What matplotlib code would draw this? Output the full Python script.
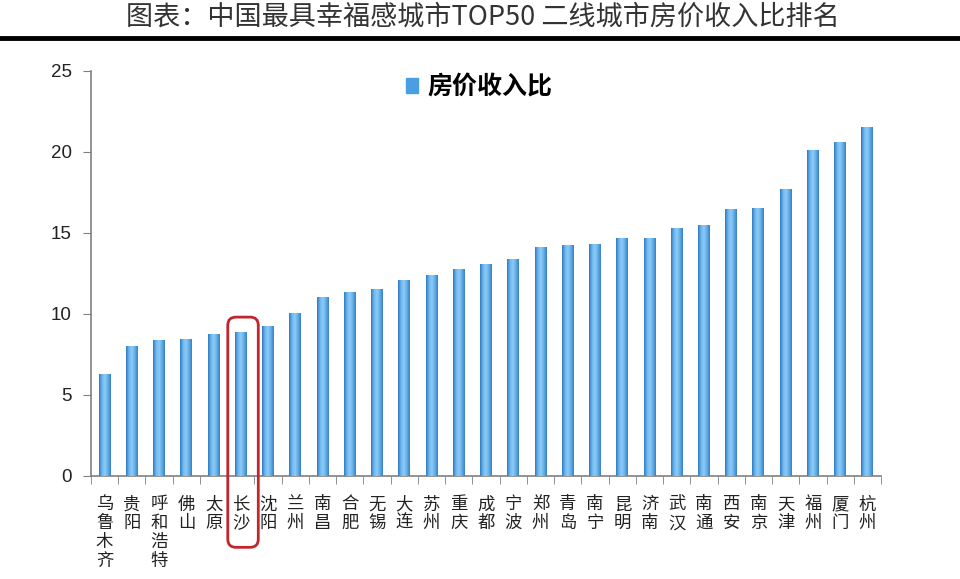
import numpy as np
import matplotlib.pyplot as plt
from matplotlib.colors import LinearSegmentedColormap
from matplotlib.patches import FancyBboxPatch

plt.rcParams['font.family'] = ['Noto Sans CJK SC', 'DejaVu Sans']

cities = ["乌鲁木齐", "贵阳", "呼和浩特", "佛山", "太原", "长沙", "沈阳", "兰州",
          "南昌", "合肥", "无锡", "大连", "苏州", "重庆", "成都", "宁波", "郑州",
          "青岛", "南宁", "昆明", "济南", "武汉", "南通", "西安", "南京", "天津",
          "福州", "厦门", "杭州"]
ratio = [6.27, 8.0, 8.37, 8.39, 8.72, 8.85, 9.23, 10.04, 11.0, 11.29, 11.49,
         12.04, 12.35, 12.74, 13.03, 13.33, 14.07, 14.21, 14.29, 14.62, 14.62,
         15.26, 15.46, 16.46, 16.48, 17.65, 20.06, 20.55, 21.47]
highlight = "长沙"
title = "图表：中国最具幸福感城市TOP50 二线城市房价收入比排名"
series_name = "房价收入比"

fig = plt.figure(figsize=(9.6, 5.79), dpi=100)
ax = fig.add_axes([0.0948, 0.1779, 0.823, 0.7])

x = np.arange(len(cities))
bars = ax.bar(x, ratio, width=0.44, color="#5aa8e8", edgecolor="none",
              label=series_name, zorder=2)

# cylinder-like shading on each bar
cmap = LinearSegmentedColormap.from_list(
    "bar", ["#2f78bf", "#6db6ee", "#8ccbf6", "#62aee8", "#3a7fc2"])
grad = np.linspace(0, 1, 64).reshape(1, -1)
for b in bars:
    ax.imshow(grad, cmap=cmap, aspect="auto", zorder=3,
              extent=[b.get_x(), b.get_x() + b.get_width(), 0, b.get_height()])

ax.set_xlim(-0.5, len(cities) - 0.5)
ax.set_ylim(0, 25)
ax.set_yticks(range(0, 26, 5))

ax.set_xticks(x)
ax.set_xticklabels(["\n".join(c) for c in cities], fontsize=12.5,
                   color="#222222", va="top", linespacing=1.05)
ax.set_xticks(np.arange(-0.5, len(cities), 1), minor=True)
ax.tick_params(axis="x", which="major", length=0, pad=14)
ax.tick_params(axis="x", which="minor", length=6, color="#808080", direction="out")
ax.tick_params(axis="y", length=6, color="#808080", labelsize=13.5,
               labelcolor="#222222", pad=8)
for lbl in ax.get_yticklabels():
    lbl.set_family(["Liberation Sans", "DejaVu Sans"])

for s in ["top", "right"]:
    ax.spines[s].set_visible(False)
for s in ["left", "bottom"]:
    ax.spines[s].set_color("#808080")
    ax.spines[s].set_linewidth(1.2)

leg = ax.legend(loc="upper left", bbox_to_anchor=(0.37, 1.045), frameon=False,
                handlelength=0.5, handleheight=0.55, handletextpad=0.35,
                prop={"size": 18, "weight": "bold"})
leg.legend_handles[0].set_color("#4a9fe3")

# red rounded frame around the highlighted city
i = cities.index(highlight)
y_top = ratio[i] + 0.95
y_bot = -4.4
asp = 27.24 / 16.2
frame = FancyBboxPatch((i - 0.48, y_bot), 1.12, y_top - y_bot,
                       boxstyle="round,pad=0,rounding_size=0.3",
                       mutation_aspect=asp, transform=ax.transData,
                       fill=False, edgecolor="#c0272d", linewidth=2,
                       clip_on=False, zorder=5)
ax.add_patch(frame)

fig.text(0.503, 0.97, title, ha="center", va="center", fontsize=19.5,
         color="#333333", fontweight="light")
fig.add_artist(plt.Line2D([0, 1], [0.934, 0.934], color="black", linewidth=3.5,
                          transform=fig.transFigure))

fig.savefig("out.png", dpi=100)
